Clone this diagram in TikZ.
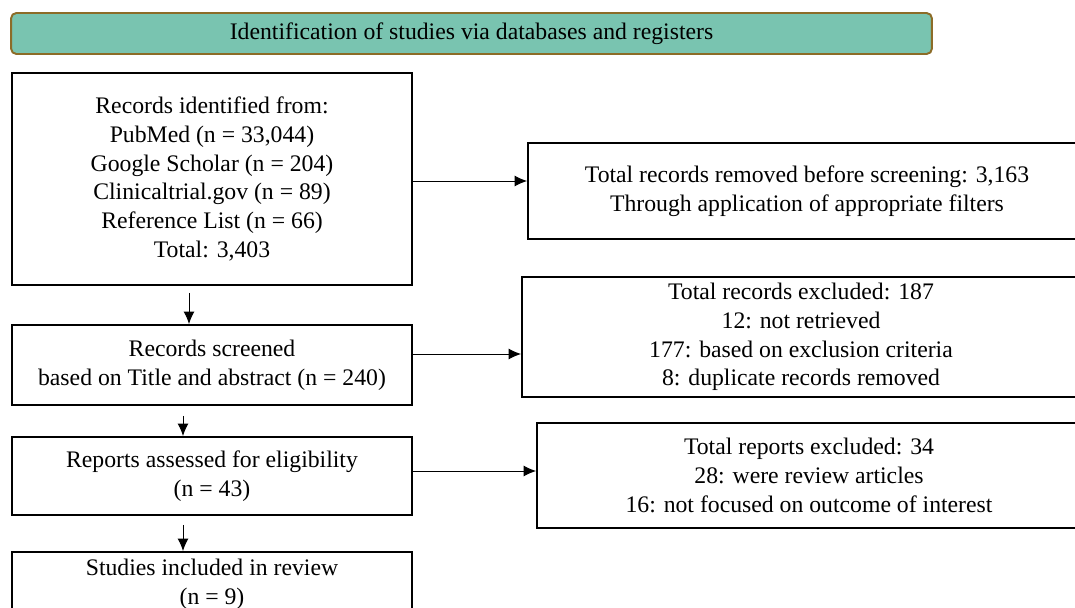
\documentclass[tikz,border=0pt]{standalone}
\usepackage{fontspec}
\setmainfont{Liberation Serif}
\usetikzlibrary{arrows.meta}
\definecolor{titlefill}{RGB}{121,196,176}
\definecolor{titledraw}{RGB}{140,108,40}

\begin{document}
\begin{tikzpicture}[x=0.02cm,y=-0.02cm,
	box/.style={draw,line width=1.1pt,align=center,inner sep=0pt,font=\fontsize{13.5}{16.4}\selectfont},
	link/.style={-{Latex[length=2.5mm,width=2.2mm]},line width=0.55pt}]
	
	% 画布范围 (以像素为单位)
	\useasboundingbox (0,0) rectangle (1075,608);
	
	% 定义方框的参数
	\def\lw{8cm} % 左侧方框宽度
	
	% 标题栏
	\node[box,draw=titledraw,fill=titlefill,rounded corners=3pt,minimum width=18.42cm,minimum height=0.82cm] (title) at (471.5,33.5) {Identification of studies via databases and registers}; % 顶部的绿色标题
	
	% 左侧主流程方框
	\node[box,minimum width=\lw,minimum height=4.24cm] (ident) at (212,179) {Records identified from:\\PubMed (n = 33,044)\\Google Scholar (n = 204)\\Clinicaltrial.gov (n = 89)\\Reference List (n = 66)\\Total: 3,403}; % 检索到的记录
	\node[box,minimum width=\lw,minimum height=1.6cm] (screen) at (212,365) {Records screened\\based on Title and abstract (n = 240)}; % 筛选
	\node[box,minimum width=\lw,minimum height=1.56cm] (reports) at (212,476) {Reports assessed for eligibility\\(n = 43)}; % 资格评估
	\node[box,minimum width=\lw,minimum height=1.28cm] (studies) at (212,584) {Studies included in review\\(n = 9)}; % 纳入研究
	
	% 右侧排除方框
	\node[box,minimum width=11.16cm,minimum height=1.92cm] (removed) at (807,191) {Total records removed before screening: 3,163\\Through application of appropriate filters}; % 筛选前移除
	\node[box,minimum width=11.16cm,minimum height=2.4cm] (excluded) at (801,337) {Total records excluded: 187\\12: not retrieved\\177: based on exclusion criteria\\8: duplicate records removed}; % 排除的记录
	\node[box,minimum width=10.88cm,minimum height=2.1cm] (rejected) at (809,475.5) {Total reports excluded: 34\\28: were review articles\\16: not focused on outcome of interest}; % 排除的报告
	
	% 向下的箭头
	\draw[link,shorten <=0.14cm] ([xshift=-0.46cm]ident.south) -- ([xshift=-0.46cm]ident.south |- screen.north); % 记录 -> 筛选
	\draw[link,shorten <=0.2cm] ([xshift=-0.58cm]screen.south) -- ([xshift=-0.58cm]screen.south |- reports.north); % 筛选 -> 评估
	\draw[link,shorten <=0.18cm] ([xshift=-0.58cm]reports.south) -- ([xshift=-0.58cm]reports.south |- studies.north); % 评估 -> 纳入
	
	% 向右的箭头
	\draw[link] ([yshift=-0.04cm]ident.east) -- ([yshift=-0.04cm]ident.east -| removed.west); % 记录 -> 移除
	\draw[link] ([yshift=0.22cm]screen.east) -- ([yshift=0.22cm]screen.east -| excluded.west); % 筛选 -> 排除
	\draw[link] ([yshift=0.1cm]reports.east) -- ([yshift=0.1cm]reports.east -| rejected.west); % 评估 -> 排除
	
\end{tikzpicture}
\end{document}
